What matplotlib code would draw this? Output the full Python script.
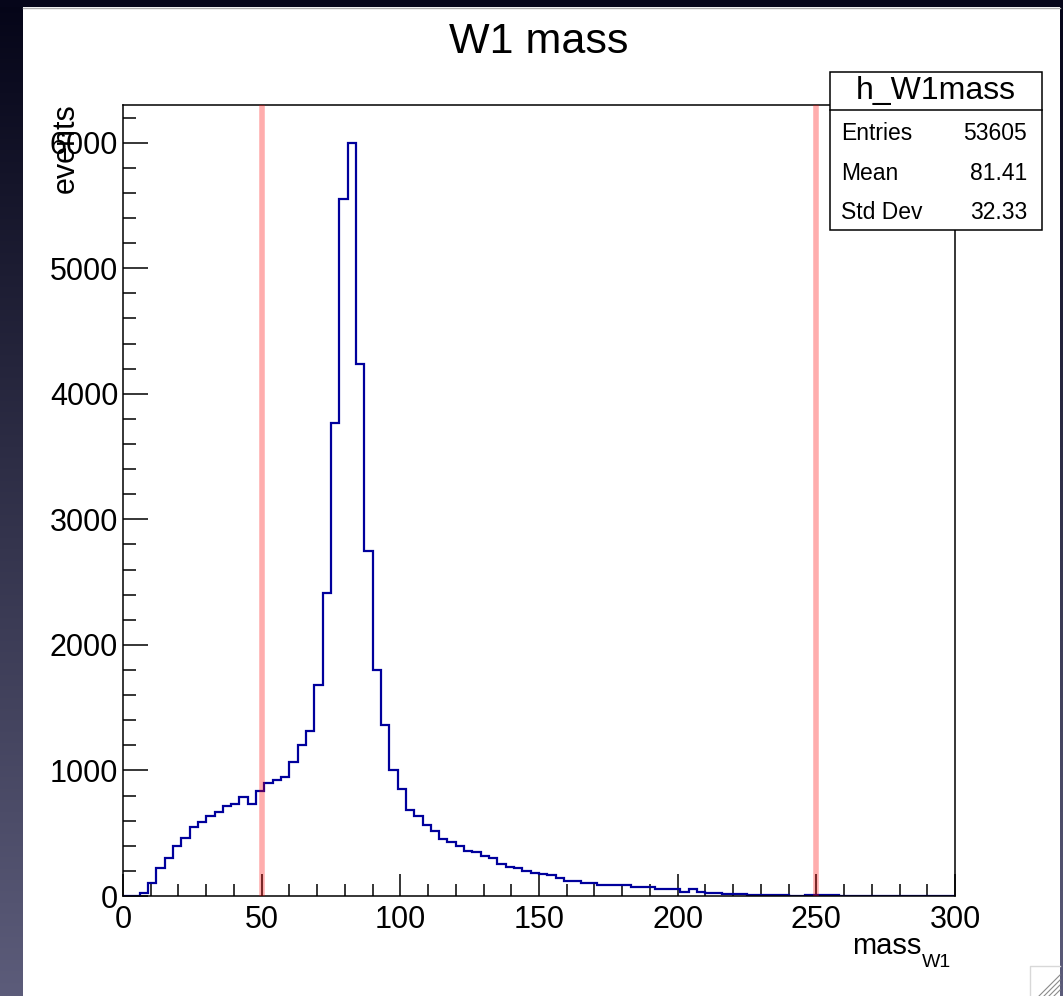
import numpy as np
import matplotlib
matplotlib.use("Agg")
import matplotlib.pyplot as plt
from matplotlib.ticker import MultipleLocator
from matplotlib.patches import Rectangle

plt.rcParams['font.family'] = ['Liberation Sans', 'DejaVu Sans']

# ---------------- data ----------------
bin_edges = np.linspace(0, 300, 101)  # 100 bins of 3 GeV
counts = [
    0, 0, 20, 106, 221, 303, 401, 460, 551, 588,
    636, 670, 718, 734, 785, 729, 840, 899, 920, 947,
    1069, 1203, 1317, 1680, 2416, 3768, 5554, 6000, 4239, 2745,
    1798, 1365, 1000, 852, 685, 634, 564, 519, 452, 434,
    399, 355, 348, 319, 301, 253, 228, 224, 202, 186,
    172, 168, 141, 121, 119, 102, 100, 90, 88, 87,
    86, 73, 72, 70, 55, 53, 52, 34, 53, 35,
    27, 26, 13, 12, 12, 11, 11, 10, 10, 9,
    0, 0, 10, 9, 9, 8, 0, 0, 0, 0,
    0, 0, 0, 0, 0, 0, 0, 0, 0, 0,
]
cut_lines = [50, 250]
title = "W1 mass"
hist_name = "h_W1mass"
stat_names = ["Entries", "Mean", "Std Dev"]
stat_values = ["53605", "81.41", "32.33"]
xlabel_main = "mass"
xlabel_sub = "W1"
ylabel = "events"

W, H = 1063, 996
fig = plt.figure(figsize=(W / 100, H / 100), dpi=100)
fig.patch.set_facecolor("white")

# ---------------- background (screen border) ----------------
bg = fig.add_axes([0, 0, 1, 1], zorder=-5)
bg.set_xlim(0, W)
bg.set_ylim(H, 0)
bg.axis("off")
grad = np.linspace(0, 1, 256)[:, None]
top_c = np.array([5, 5, 24]) / 255.0
bot_c = np.array([92, 92, 122]) / 255.0
img = top_c[None, None, :] * (1 - grad[:, :, None]) + bot_c[None, None, :] * grad[:, :, None]
bg.imshow(img, extent=[0, 23, H, 0], aspect="auto", interpolation="bilinear")
bg.imshow(img, extent=[1060, W, H, 0], aspect="auto", interpolation="bilinear")
bg.add_patch(Rectangle((0, 0), W, 7, color="#06061a", lw=0))
bg.plot([23, 1060], [7.5, 7.5], color="#b0b0b0", lw=1)
# resize handle
bg.plot([1030, 1030, 1060], [996, 966, 966], color="#d8d8d8", lw=1)
for d in [6, 11, 16, 21]:
    bg.plot([1060 - d, 1060], [996, 996 - d], color="#8a8a8a", lw=0.8)
bg.set_xlim(0, W)
bg.set_ylim(H, 0)

# ---------------- main histogram ----------------
ax = fig.add_axes([123 / W, 1 - 896 / H, (955 - 123) / W, (896 - 105) / H])
ax.stairs(counts, bin_edges, color="#00009c", lw=1.6, zorder=2.5)
for xc in cut_lines:
    ax.plot([xc, xc], [0, 6300], color="red", alpha=0.32, lw=4.0, zorder=3,
            solid_capstyle="butt")
ax.set_xlim(0, 300)
ax.set_ylim(0, 6300)
ax.xaxis.set_major_locator(MultipleLocator(50))
ax.xaxis.set_minor_locator(MultipleLocator(10))
ax.yaxis.set_major_locator(MultipleLocator(1000))
ax.yaxis.set_minor_locator(MultipleLocator(200))
ax.tick_params(axis="both", which="both", direction="in", top=False, right=False,
               width=1.1, colors="black", labelsize=22)
ax.tick_params(axis="y", which="major", length=18, pad=3.5)
ax.tick_params(axis="y", which="minor", length=9)
ax.tick_params(axis="x", which="major", length=16, pad=6.5)
ax.tick_params(axis="x", which="minor", length=9)
for s in ax.spines.values():
    s.set_linewidth(1.1)

# ---------------- overlay texts and stats box ----------------
ov = fig.add_axes([0, 0, 1, 1], zorder=10)
ov.set_xlim(0, W)
ov.set_ylim(H, 0)
ov.axis("off")
ov.patch.set_alpha(0)

ov.text(539, 42, title, fontsize=31, ha="center", va="center")
ov.text(66, 103, ylabel, fontsize=22, rotation=90, ha="center", va="top")
ov.text(921, 954, xlabel_main, fontsize=21, ha="right", va="baseline")
ov.text(922, 967, xlabel_sub, fontsize=14, ha="left", va="baseline")

ov.add_patch(Rectangle((830, 72), 212, 158, facecolor="white", edgecolor="black", lw=1.1))
ov.plot([830, 1042], [110, 110], color="black", lw=1.1)
ov.text(936, 91, hist_name, fontsize=23, ha="center", va="center")
row_y = [133, 173, 212]
for name, val, yy in zip(stat_names, stat_values, row_y):
    ov.text(841, yy, name, fontsize=16.5, ha="left", va="center")
    ov.text(1027, yy, val, fontsize=16.5, ha="right", va="center")

fig.savefig("out.png", dpi=100)
